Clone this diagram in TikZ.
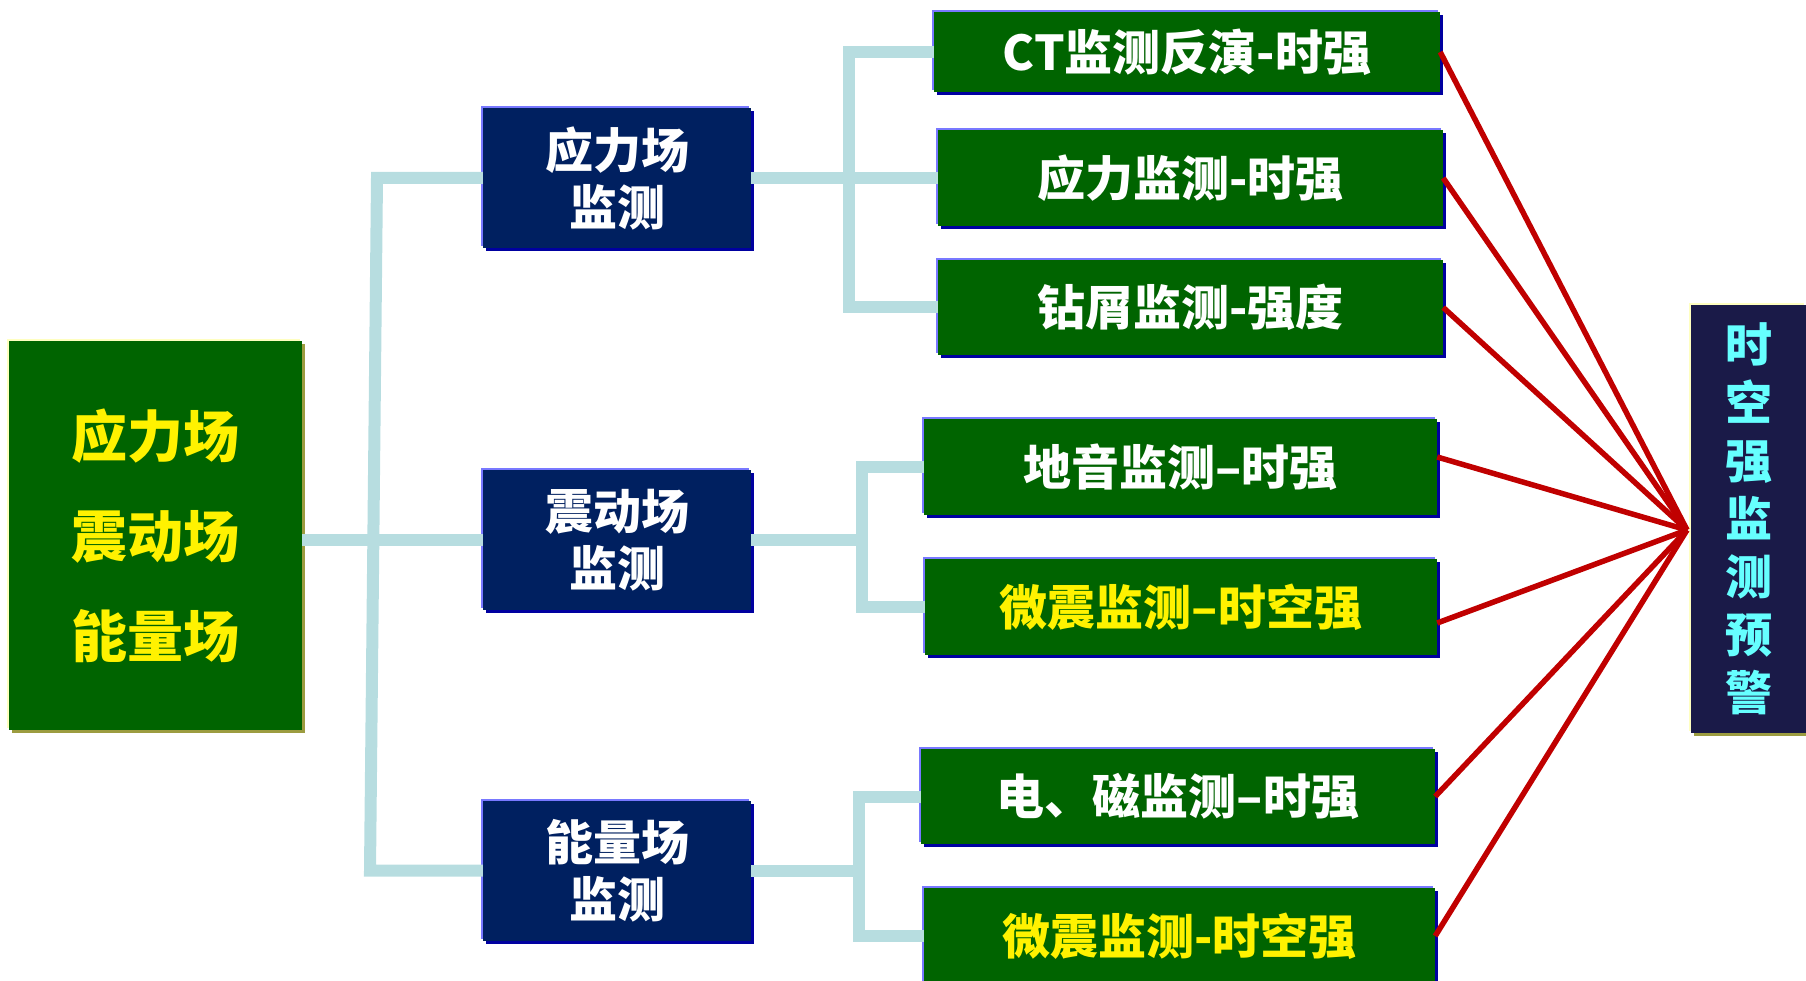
\documentclass[tikz,border=0pt]{standalone}
\usepackage{fontspec}
\newfontfamily\cjk{Noto Sans CJK SC}
\usetikzlibrary{shadows}
\definecolor{gfill}{HTML}{006400}
\definecolor{bfill}{HTML}{002060}
\definecolor{rfill}{HTML}{1A1A48}
\definecolor{lightedge}{HTML}{7878FF}
\definecolor{darkedge}{HTML}{0000A0}
\definecolor{paleedge}{HTML}{FFFFC0}
\definecolor{oliveedge}{HTML}{9C9C40}
\definecolor{conn}{HTML}{B7DDE0}
\definecolor{redline}{HTML}{C00000}
\definecolor{cyantext}{HTML}{66FFFF}
\begin{document}
\begin{tikzpicture}[x=1pt,y=-1pt,
  bevelblue/.style={general shadow={fill=lightedge, shadow xshift=-2pt, shadow yshift=2pt},
                    general shadow={fill=darkedge, shadow xshift=3pt, shadow yshift=-3pt}},
  bevelyellow/.style={general shadow={fill=paleedge, shadow xshift=-2pt, shadow yshift=2pt},
                    general shadow={fill=oliveedge, shadow xshift=3pt, shadow yshift=-3pt}},
  gbox/.style={bevelblue, fill=gfill, inner sep=0pt, text=white,
               font=\cjk\bfseries\fontsize{48}{58}\selectfont},
  bbox/.style={bevelblue, fill=bfill, inner sep=0pt, text=white, align=center,
               minimum width=268pt, minimum height=140pt,
               font=\cjk\bfseries\fontsize{48}{57}\selectfont},
  conline/.style={draw=conn, line width=12pt},
  redl/.style={draw=redline, line width=5.5pt}
]
\useasboundingbox (0,0) rectangle (1806,981);

% left box
\node[bevelyellow, fill=gfill, inner sep=0pt, text=yellow, align=center,
      minimum width=293pt, minimum height=389pt,
      font=\cjk\bfseries\fontsize{56}{100}\selectfont] (L) at (155.5,535.5) {应力场\\震动场\\能量场};

% middle boxes
\node[bbox] (B1) at (617,178) {应力场\\监测};
\node[bbox] (B2) at (617,540) {震动场\\监测};
\node[bbox] (B3) at (617,870.5) {能量场\\监测};

% right group boxes
\node[gbox, minimum width=506pt, minimum height=80pt] (G1) at (1187,52) {CT监测反演-时强};
\node[gbox, minimum width=505pt, minimum height=96pt] (G2) at (1190.5,178) {应力监测-时强};
\node[gbox, minimum width=505pt, minimum height=95pt] (G3) at (1190.5,307.5) {钻屑监测-强度};
\node[gbox, minimum width=513pt, minimum height=96pt] (G4) at (1180.5,467) {地音监测–时强};
\node[gbox, minimum width=512pt, minimum height=96pt, text=yellow] (G5) at (1181,607) {微震监测–时空强};
\node[gbox, minimum width=514pt, minimum height=95pt] (G6) at (1178,796.5) {电、磁监测–时强};
\node[gbox, minimum width=511pt, minimum height=96pt, text=yellow] (G7) at (1179.5,936) {微震监测-时空强};

% far right box
\node[bevelyellow, fill=rfill, inner sep=0pt, text=cyantext, align=center,
      minimum width=115pt, minimum height=428pt,
      font=\cjk\bfseries\fontsize{47}{58}\selectfont] (R) at (1748.5,519) {时\\空\\强\\监\\测\\预\\警};

% connector coordinates
\coordinate (tt) at (377,178);
\coordinate (tm) at (374,540);
\coordinate (tb) at (370,870.5);
\coordinate (a1) at (849,52);
\coordinate (a3) at (849,307.5);
\coordinate (b1) at (862,467);
\coordinate (bm) at (862,540);
\coordinate (b2) at (862,607);
\coordinate (c1) at (859,796.5);
\coordinate (cm) at (859,870.5);
\coordinate (c2) at (859,936);
\coordinate (P) at (1687,530);

\draw[conline] (tm -| L.east) -- (tm);
\draw[conline] (B1.west) -- (tt) -- (tb) -- (B3.west);
\draw[conline] (tm) -- (B2.west);
\draw[conline] (B1.east) -- (G2.west);
\draw[conline] (G1.west) -- (a1) -- (a3) -- (G3.west);
\draw[conline] (B2.east) -- (bm);
\draw[conline] (G4.west) -- (b1) -- (b2) -- (G5.west);
\draw[conline] (B3.east) -- (cm);
\draw[conline] (G6.west) -- (c1) -- (c2) -- (G7.west);

% red lines
\draw[redl] (G1.east) -- (P);
\draw[redl] (G2.east) -- (P);
\draw[redl] (G3.east) -- (P);
\draw[redl] ([yshift=10pt]G4.east) -- (P);
\draw[redl] ([yshift=-16pt]G5.east) -- (P);
\draw[redl] (G6.east) -- (P);
\draw[redl] (G7.east) -- (P);
\end{tikzpicture}
\end{document}
